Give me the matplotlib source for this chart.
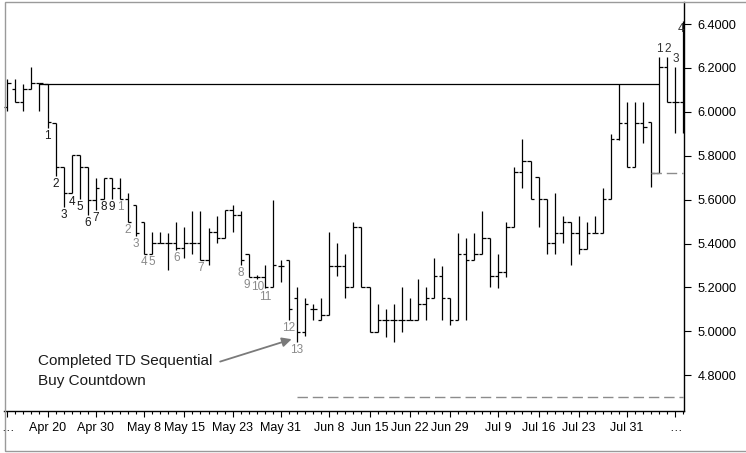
import numpy as np
import matplotlib
matplotlib.use('Agg')
import matplotlib.pyplot as plt
from matplotlib.patches import Rectangle

# ---------------- data ----------------
opens = [6.023, 6.103, 6.046, 6.103, 6.130, 6.127, 5.950, 5.750, 5.629, 5.803,
         5.750, 5.598, 5.603, 5.700, 5.651, 5.603, 5.575, 5.499, 5.352, 5.401,
         5.401, 5.401, 5.378, 5.401, 5.401, 5.325, 5.454, 5.424, 5.553, 5.530,
         5.352, 5.247, 5.249, 5.200, 5.299, 5.325, 5.150, 4.998, 5.100, 5.051,
         5.074, 5.297, 5.297, 5.200, 5.477, 5.200, 4.998, 5.051, 5.051, 5.051,
         5.051, 5.051, 5.124, 5.150, 5.252, 5.150, 5.051, 5.352, 5.325, 5.351,
         5.427, 5.252, 5.269, 5.477, 5.724, 5.777, 5.702, 5.601, 5.401, 5.449,
         5.499, 5.449, 5.375, 5.449, 5.449, 5.601, 5.875, 5.950, 5.750, 5.950,
         5.952, 5.720, 6.205, 6.046, 6.046]
highs = [6.148, 6.148, 6.125, 6.203, 6.130, 6.127, 5.950, 5.750, 5.803, 5.803,
         5.750, 5.700, 5.700, 5.700, 5.700, 5.629, 5.575, 5.499, 5.454, 5.454,
         5.446, 5.499, 5.477, 5.548, 5.548, 5.469, 5.525, 5.553, 5.575, 5.548,
         5.352, 5.257, 5.302, 5.598, 5.325, 5.325, 5.200, 5.150, 5.124, 5.150,
         5.454, 5.404, 5.352, 5.499, 5.477, 5.200, 5.124, 5.100, 5.124, 5.200,
         5.150, 5.237, 5.200, 5.333, 5.297, 5.150, 5.449, 5.424, 5.449, 5.549,
         5.427, 5.351, 5.499, 5.750, 5.875, 5.777, 5.702, 5.601, 5.629, 5.525,
         5.499, 5.525, 5.499, 5.525, 5.651, 5.897, 6.127, 6.046, 6.046, 6.046,
         5.952, 6.251, 6.251, 6.205, 6.414]
lows = [6.004, 6.046, 6.004, 6.103, 6.004, 5.926, 5.708, 5.566, 5.629, 5.603,
        5.530, 5.553, 5.603, 5.603, 5.603, 5.498, 5.434, 5.352, 5.352, 5.401,
        5.279, 5.371, 5.333, 5.352, 5.325, 5.302, 5.401, 5.424, 5.454, 5.302,
        5.249, 5.240, 5.196, 5.200, 5.226, 5.051, 4.953, 4.979, 5.051, 5.051,
        5.074, 5.252, 5.150, 5.200, 5.200, 4.998, 4.998, 4.975, 4.953, 4.998,
        5.051, 5.051, 5.051, 5.150, 5.051, 5.029, 5.051, 5.051, 5.325, 5.351,
        5.202, 5.196, 5.249, 5.477, 5.651, 5.601, 5.477, 5.351, 5.351, 5.401,
        5.302, 5.351, 5.375, 5.449, 5.449, 5.601, 5.872, 5.750, 5.750, 5.856,
        5.659, 5.720, 6.046, 5.902, 5.902]
closes = [6.130, 6.046, 6.103, 6.130, 6.130, 5.955, 5.750, 5.629, 5.803, 5.750,
          5.598, 5.651, 5.700, 5.651, 5.603, 5.499, 5.449, 5.352, 5.401, 5.401,
          5.401, 5.378, 5.401, 5.401, 5.325, 5.454, 5.424, 5.553, 5.530, 5.325,
          5.249, 5.247, 5.200, 5.302, 5.299, 5.100, 4.998, 5.124, 5.100, 5.074,
          5.297, 5.297, 5.200, 5.477, 5.200, 4.998, 5.051, 5.051, 5.051, 5.051,
          5.051, 5.124, 5.150, 5.252, 5.150, 5.051, 5.352, 5.325, 5.351, 5.427,
          5.252, 5.269, 5.477, 5.724, 5.777, 5.601, 5.601, 5.401, 5.449, 5.499,
          5.449, 5.375, 5.449, 5.449, 5.601, 5.875, 5.951, 5.750, 5.950, 5.932,
          5.723, 6.205, 6.046, 6.046, 6.373]

tick_idx = [0, 5, 11, 17, 22, 28, 34, 40, 45, 50, 55, 61, 66, 71, 77, 83]
tick_labels = ['\u2026', 'Apr 20', 'Apr 30', 'May 8', 'May 15', 'May 23', 'May 31',
               'Jun 8', 'Jun 15', 'Jun 22', 'Jun 29', 'Jul 9', 'Jul 16', 'Jul 23',
               'Jul 31', '\u2026']
y_ticks = [4.8, 5.0, 5.2, 5.4, 5.6, 5.8, 6.0, 6.2, 6.4]

buy_setup_idx = [5, 6, 7, 8, 9, 10, 11, 12, 13]
buy_setup_lbl = ['1', '2', '3', '4', '5', '6', '7', '8', '9']
countdown_idx = [14, 15, 16, 17, 18, 21, 24, 29, 30, 31, 32, 35, 36]
countdown_lbl = ['1', '2', '3', '4', '5', '6', '7', '8', '9', '10', '11', '12', '13']
sell_setup_idx = [81, 82, 83, 84]
sell_setup_lbl = ['1', '2', '3', '4']

resistance_level = 6.128
resistance_span = (4, 81)
upper_risk_level = 5.723
upper_risk_span = (80, 84)
lower_risk_level = 4.70
lower_risk_span = (36, 84)

note_text = 'Completed TD Sequential\nBuy Countdown'

# ---------------- fonts ----------------
plt.rcParams['font.family'] = ['Liberation Sans', 'DejaVu Sans']

# ---------------- figure ----------------
W, H = 746, 453
fig = plt.figure(figsize=(W / 100, H / 100), dpi=100)
ax_left, ax_right, ax_top, ax_bottom = 4.0, 683.5, 2.0, 411.0
ax = fig.add_axes([ax_left / W, (H - ax_bottom) / H,
                   (ax_right - ax_left) / W, (ax_bottom - ax_top) / H])

x = np.arange(len(opens))
bar_kw = dict(color='black', lw=0.9)
ax.vlines(x, lows, highs, **bar_kw)
ax.hlines(opens, x - 0.42, x, **bar_kw)
ax.hlines(closes, x, x + 0.42, **bar_kw)

ax.hlines(resistance_level, *resistance_span, color='black', lw=0.9)
ax.hlines(upper_risk_level, *upper_risk_span, color='#8c8c8c', lw=1.0,
          linestyles=(0, (7.5, 3.5)))
ax.hlines(lower_risk_level, *lower_risk_span, color='#8c8c8c', lw=1.0,
          linestyles=(0, (7.5, 3.5)))

num_fs = 8.5
nudge = {30: (-1.6, -6), 31: (0.6, -6)}   # keep crowded "9" / "10" apart
for i, s in zip(buy_setup_idx, buy_setup_lbl):
    ax.annotate(s, (i, lows[i]), xytext=(0, -6), textcoords='offset points',
                ha='center', va='center', fontsize=num_fs, color='#1a1a1a')
for i, s in zip(countdown_idx, countdown_lbl):
    ax.annotate(s, (i, lows[i]), xytext=nudge.get(i, (0, -6)),
                textcoords='offset points', ha='center', va='center',
                fontsize=num_fs, color='#8a8a8a')
for i, s in zip(sell_setup_idx, sell_setup_lbl):
    off = (0, 5.5) if i != sell_setup_idx[-1] else (-1.5, -5.5)
    ax.annotate(s, (i, highs[i]), xytext=off, textcoords='offset points',
                ha='center', va='center', fontsize=num_fs, color='#333333')

ax.text(3.82, 4.819, note_text, fontsize=11, ha='left', va='center',
        linespacing=1.5, color='#1a1a1a')
ax.annotate('', xy=(35.33, 4.964), xytext=(26.45, 4.862),
            arrowprops=dict(arrowstyle='-|>', color='#7a7a7a', lw=1.3,
                            mutation_scale=14, shrinkA=0, shrinkB=0))

px_per_bar, x0_px = 8.05, 7.25
ax.set_xlim((ax_left - x0_px) / px_per_bar, (ax_right - x0_px) / px_per_bar)
px_per_unit, y64_px = 219.5, 24.0
ax.set_ylim(6.4 - (ax_bottom - y64_px) / px_per_unit,
            6.4 + (y64_px - ax_top) / px_per_unit)

ax.set_xticks(tick_idx)
ax.set_xticklabels(tick_labels)
ax.set_xticks([i for i in x if i not in tick_idx], minor=True)
ax.tick_params(axis='x', which='major', length=4, width=0.8, pad=4,
               labelsize=9, direction='out')
ax.tick_params(axis='x', which='minor', length=2.4, width=0.8, direction='out')

ax.yaxis.tick_right()
ax.set_yticks(y_ticks)
ax.set_yticklabels([f'{v:.4f}' for v in y_ticks])
ax.tick_params(axis='y', length=5, width=0.8, pad=5, labelsize=9.2)

for side in ('left', 'top'):
    ax.spines[side].set_visible(False)
for side in ('right', 'bottom'):
    ax.spines[side].set_linewidth(1.0)
    ax.spines[side].set_color('black')

fig.add_artist(Rectangle((4.5 / W, 2 / H), (W + 10) / W, 449 / H,
                         transform=fig.transFigure, fill=False,
                         edgecolor='#9a9a9a', lw=1.0, clip_on=False))

fig.savefig('out.png', dpi=100)
